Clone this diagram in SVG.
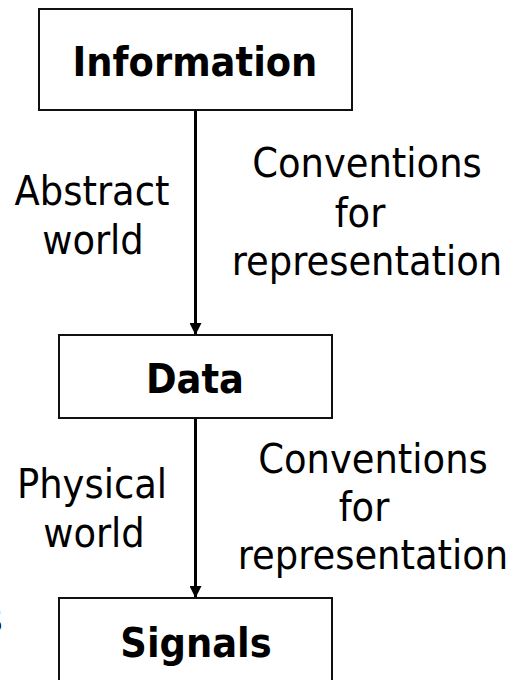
<svg xmlns="http://www.w3.org/2000/svg" width="528" height="680" viewBox="0 0 528 680">
<style>
.box{fill:#fff;stroke:#111;stroke-width:2}
.t{font-family:"DejaVu Sans Condensed","DejaVu Sans",sans-serif;font-size:41px;fill:#000;text-anchor:middle}
.b{font-weight:bold}
.conn{stroke:#000;stroke-width:3;fill:none}
</style>
<defs>
<marker id="ah" markerWidth="12" markerHeight="12" refX="12" refY="6" orient="auto" markerUnits="userSpaceOnUse">
<path d="M0,0 L12,6 L0,12 Z" fill="#000"/>
</marker>
</defs>
<rect width="528" height="680" fill="#fff"/>
<g id="connectors">
<line class="conn" x1="195.5" y1="110" x2="195.5" y2="335" marker-end="url(#ah)"/>
<line class="conn" x1="195.5" y1="418" x2="195.5" y2="598" marker-end="url(#ah)"/>
</g>
<g id="information">
<rect class="box" x="39" y="9" width="313" height="101"/>
<text class="t b" x="195" y="76">Information</text>
</g>
<g id="data">
<rect class="box" x="59" y="335" width="273" height="83"/>
<text class="t b" x="195" y="393">Data</text>
</g>
<g id="signals">
<rect class="box" x="59" y="598" width="273" height="110"/>
<text class="t b" x="196" y="657">Signals</text>
</g>
<g id="labels">
<text class="t" x="92" y="205">Abstract</text>
<text class="t" x="93" y="254">world</text>
<text class="t" x="367" y="177">Conventions</text>
<text class="t" x="360" y="227">for</text>
<text class="t" x="367" y="275">representation</text>
<text class="t" x="92" y="498">Physical</text>
<text class="t" x="94" y="547">world</text>
<text class="t" x="373" y="473">Conventions</text>
<text class="t" x="364" y="521">for</text>
<text class="t" x="373" y="569">representation</text>
<text class="t" x="-7" y="632">s</text>
</g>
</svg>
